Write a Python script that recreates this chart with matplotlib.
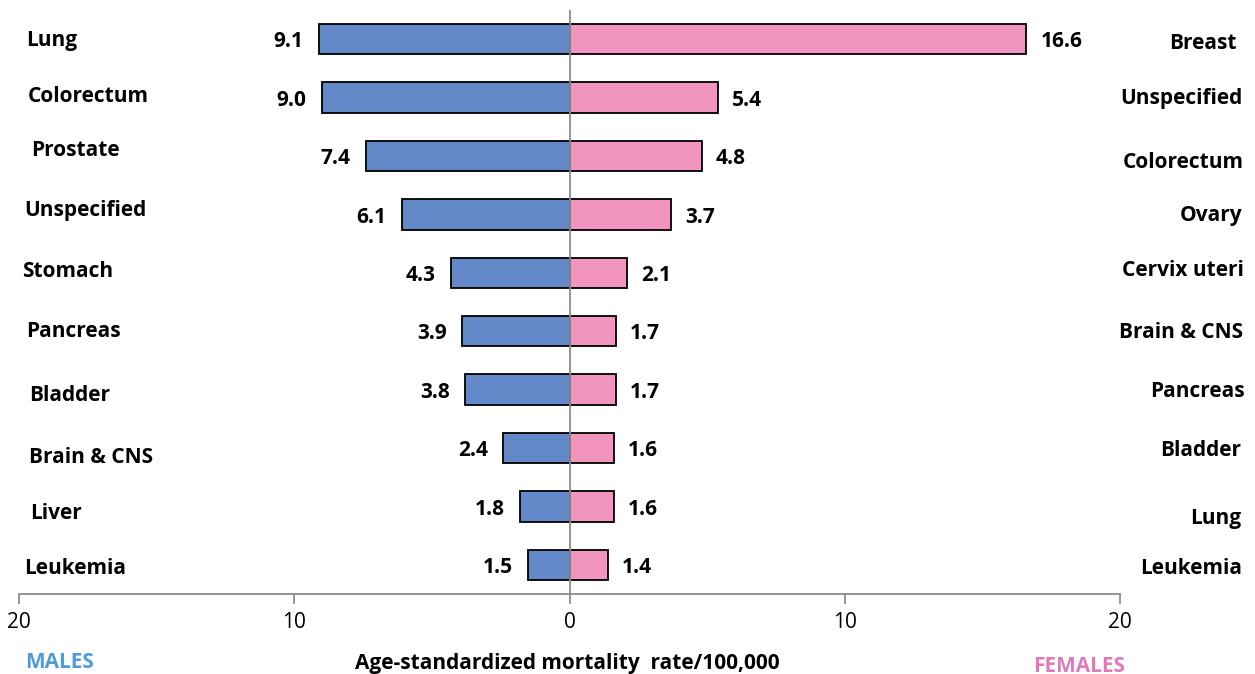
import matplotlib.pyplot as plt

plt.rcParams["font.family"] = ["Open Sans", "DejaVu Sans"]

# data
male_sites = ["Lung", "Colorectum", "Prostate", "Unspecified", "Stomach",
              "Pancreas", "Bladder", "Brain & CNS", "Liver", "Leukemia"]
male_rates = [9.1, 9.0, 7.4, 6.1, 4.3, 3.9, 3.8, 2.4, 1.8, 1.5]
female_sites = ["Breast", "Unspecified", "Colorectum", "Ovary", "Cervix uteri",
                "Brain & CNS", "Pancreas", "Bladder", "Lung", "Leukemia"]
female_rates = [16.6, 5.4, 4.8, 3.7, 2.1, 1.7, 1.7, 1.6, 1.6, 1.4]
tick_values = [-20, -10, 0, 10, 20]
tick_labels = ["20", "10", "0", "10", "20"]

# layout: small (dx, dy) nudges in points of the site labels, as in the original
male_nudge = [(1, -1), (2, 1), (5, 4), (0, 2.5), (-2, 1), (1, -0.5),
              (3, -4.5), (3, -7), (4, -5), (0, -3)]
female_nudge = [(-4, -3), (0, -1), (1, -5), (0, -1), (1, 2), (1, -1),
                (2, -1.5), (-1, -2), (-1, -9), (0, -3)]

BLUE = "#6489c8"
PINK = "#f295be"
AXIS_GREY = "#8c8c8c"
FS = 15

fig = plt.figure(figsize=(12.55, 6.74), dpi=100)
ax = fig.add_axes([19 / 1255, 1 - 594 / 674, (1120 - 19) / 1255, (594 - 10) / 674])

rows = list(range(len(male_rates)))
ax.barh(rows, [-v for v in male_rates], height=0.52, color=BLUE,
        edgecolor="black", linewidth=1.3, zorder=2)
ax.barh(rows, female_rates, height=0.52, color=PINK,
        edgecolor="black", linewidth=1.3, zorder=2)

ax.axvline(0, color=AXIS_GREY, lw=1.3, zorder=3)

for i, (m, f) in enumerate(zip(male_rates, female_rates)):
    ax.annotate(f"{m:.1f}", xy=(-m, i), xytext=(-11, -2), textcoords="offset points",
                ha="right", va="center", fontsize=FS, fontweight="bold")
    ax.annotate(f"{f:.1f}", xy=(f, i), xytext=(10, -2), textcoords="offset points",
                ha="left", va="center", fontsize=FS, fontweight="bold")

trans_l = ax.get_yaxis_transform()
for i, (name, (dx, dy)) in enumerate(zip(male_sites, male_nudge)):
    ax.annotate(name, xy=(0.005, i), xycoords=trans_l, xytext=(dx, dy),
                textcoords="offset points", ha="left", va="center",
                fontsize=FS, fontweight="bold", annotation_clip=False)
for i, (name, (dx, dy)) in enumerate(zip(female_sites, female_nudge)):
    ax.annotate(name, xy=(1.111, i), xycoords=trans_l, xytext=(dx, dy),
                textcoords="offset points", ha="right", va="center",
                fontsize=FS, fontweight="bold", annotation_clip=False)

ax.set_xlim(-20, 20)
ax.set_ylim(9.5, -0.5)
ax.set_xticks(tick_values)
ax.set_xticklabels(tick_labels, fontsize=FS)
ax.set_yticks([])
for s in ["top", "left", "right"]:
    ax.spines[s].set_visible(False)
ax.spines["bottom"].set_color(AXIS_GREY)
ax.spines["bottom"].set_linewidth(1.3)
ax.tick_params(axis="x", colors=AXIS_GREY, labelcolor="black", length=7,
               width=1.3, pad=6)

fig.text(567 / 1255, 1 - 663 / 674, "Age-standardized mortality  rate/100,000",
         ha="center", va="center", fontsize=FS, fontweight="bold")
fig.text(25 / 1255, 1 - 662 / 674, "MALES", ha="left", va="center",
         fontsize=FS, fontweight="bold", color="#4f9ad8")
fig.text(1125 / 1255, 1 - 666 / 674, "FEMALES", ha="right", va="center",
         fontsize=FS, fontweight="bold", color="#e07ab8")

fig.savefig("out.png", dpi=100)
